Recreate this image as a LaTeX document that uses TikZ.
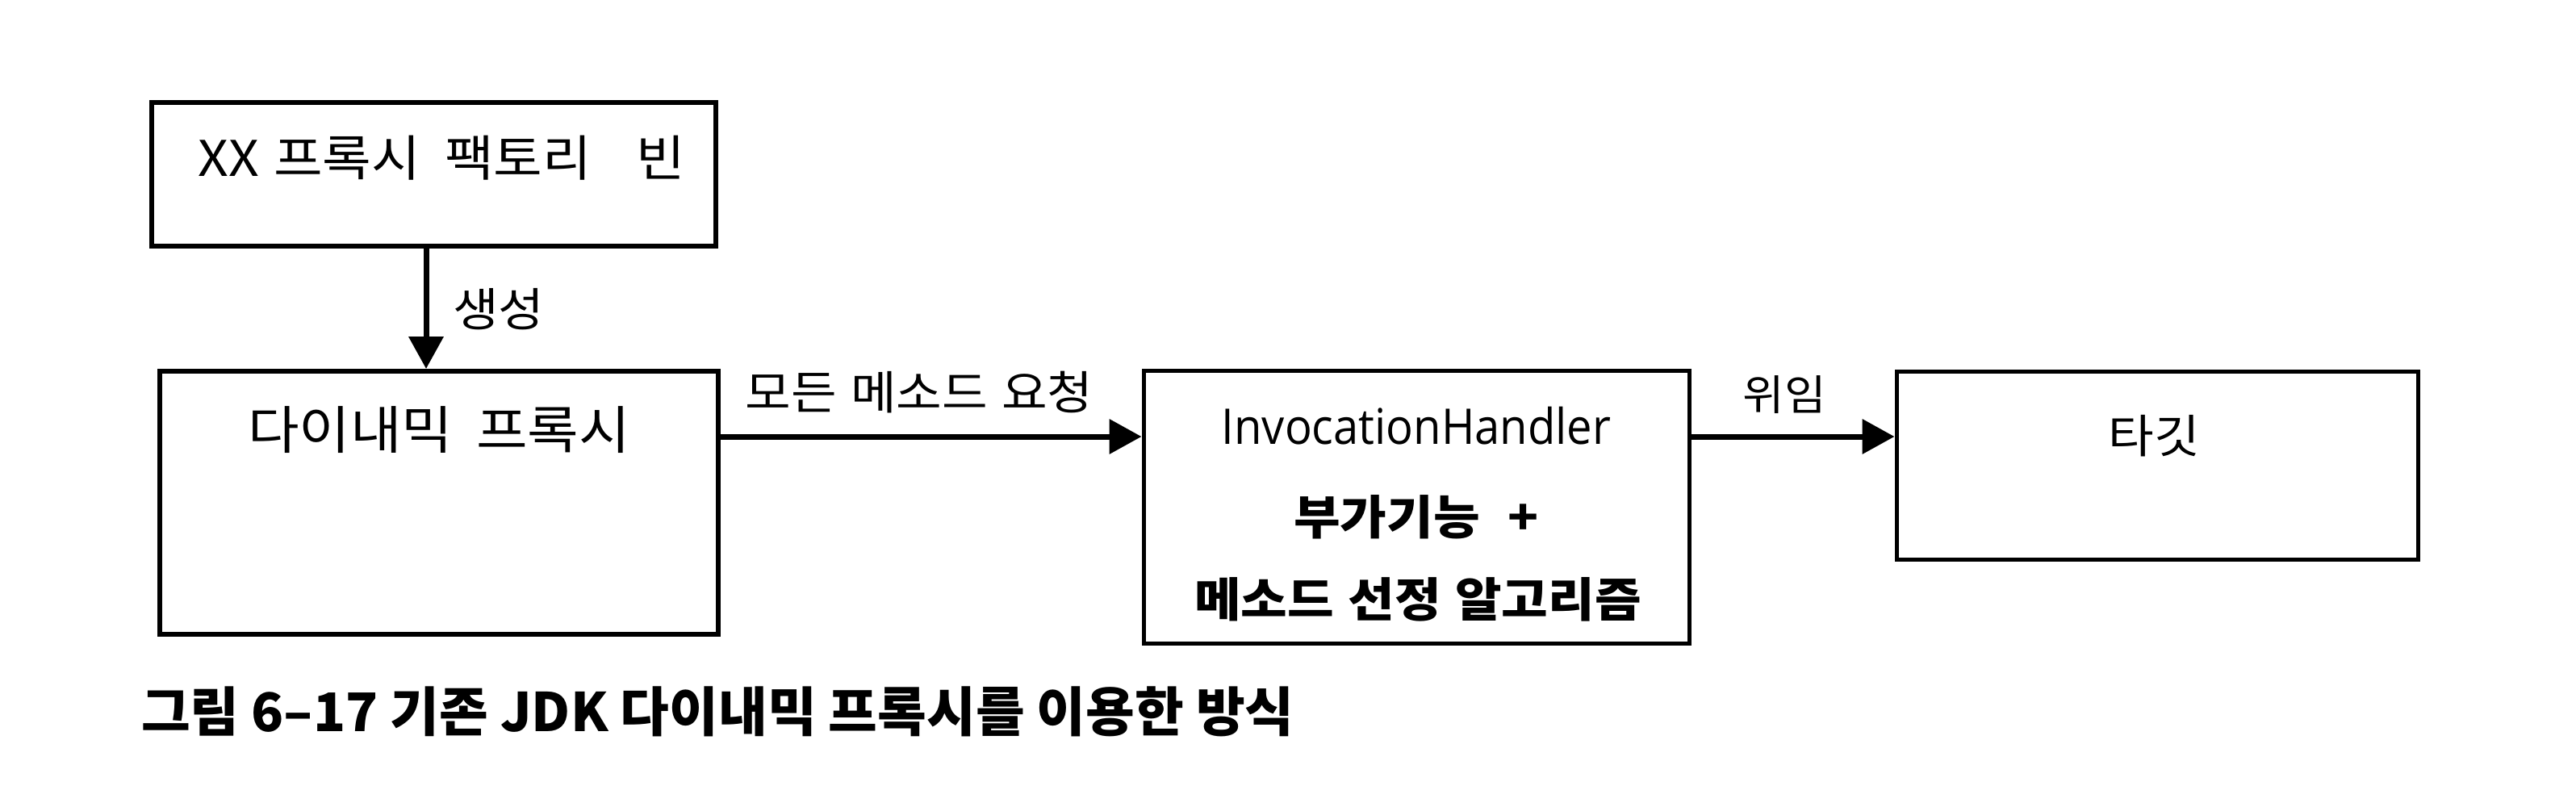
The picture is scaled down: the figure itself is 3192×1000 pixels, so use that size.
\documentclass[tikz,border=0pt]{standalone}
\usepackage{fontspec}
\setmainfont{Noto Sans CJK KR}
\newfontfamily\kr[FakeStretch=1.08]{Noto Sans CJK KR}
\newfontfamily\latinf[FakeStretch=0.92]{Open Sans}
\usetikzlibrary{arrows.meta}
\tikzset{
  boxA/.style={draw=black, line width=6pt, rectangle, inner sep=0pt},
  boxB/.style={draw=black, line width=5pt, rectangle, inner sep=0pt},
  txt/.style={inner sep=0pt, text=black},
  arr/.style={line width=7pt, -{Triangle[length=40pt,width=42pt]}},
}
\newcommand{\fs}[1]{\fontsize{#1}{#1}\selectfont}
\begin{document}
\begin{tikzpicture}[x=1pt,y=-1pt]
\useasboundingbox[fill=white] (0,0) rectangle (3192,1000);
% boxes
\node[boxA, minimum width=699pt, minimum height=178pt] (b1) at (537.5,216) {};
\node[boxA, minimum width=692pt, minimum height=326pt] (b2) at (544,623) {};
\node[boxB, minimum width=676pt, minimum height=338pt] (b3) at (1755,628) {};
\node[boxB, minimum width=646pt, minimum height=233pt] (b4) at (2673,576.5) {};
% texts
\node[txt] (t1) at (547,196) {\kr\fs{61}XX\hspace{0.3em}프록시\hspace{0.5em}팩토리\hspace{0.9em}빈};
\node[txt] (t2) at (544,533) {\kr\fs{64}다이내믹\hspace{0.45em}프록시};
\node[txt, anchor=base] (t3) at (1755,550) {\fs{61}\latinf InvocationHandler};
\node[txt] (t4) at (1755,641) {\kr\fs{58}\bfseries 부가기능\hspace{0.6em}+};
\node[txt] (t5) at (1757,743) {\kr\fs{58}\bfseries 메소드\hspace{0.3em}선정\hspace{0.3em}알고리즘};
\node[txt] (t6) at (2669,540) {\kr\fs{57}타깃};
% connectors
\coordinate (ax) at (528,0);
\coordinate (ay) at (0,541);
\draw[arr] (b1.south -| ax) -- (b2.north -| ax);
\draw[arr] (b2.east |- ay) -- (b3.west |- ay);
\draw[arr] (b3.east |- ay) -- (b4.west |- ay);
% labels
\node[txt, anchor=west] (l1) at (561,383) {\kr\fs{57}생성};
\node[txt] (l2) at (1139,486) {\kr\fs{57}모든\hspace{0.3em}메소드\hspace{0.3em}요청};
\node[txt] (l3) at (2211,489) {\kr\fs{52}위임};
% caption
\node[txt, anchor=west] (cap) at (175,882) {\fs{66}\bfseries 그림 6–17 기존 JDK 다이내믹 프록시를 이용한 방식};
\end{tikzpicture}
\end{document}
